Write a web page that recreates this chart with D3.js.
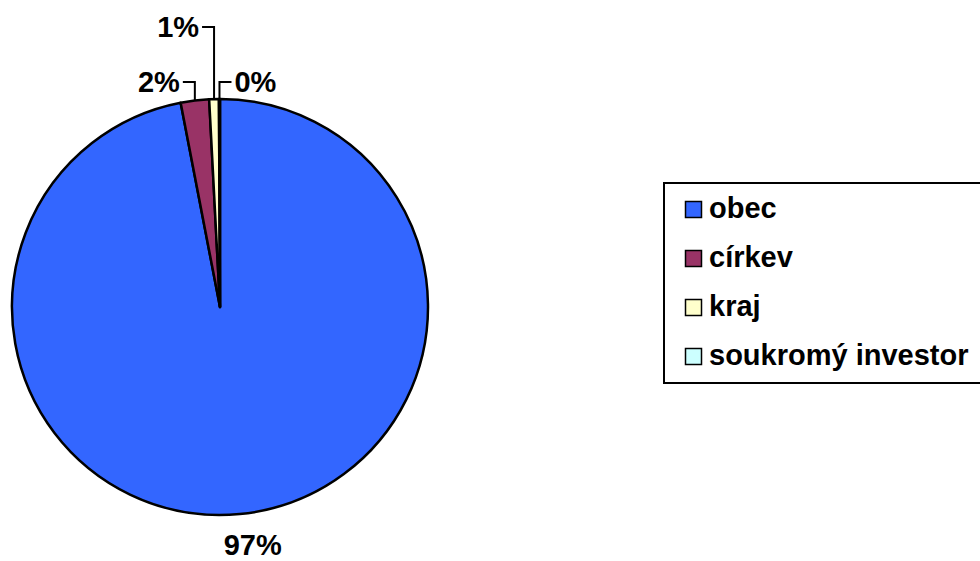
<!DOCTYPE html>
<html>
<head>
<meta charset="utf-8">
<script src="https://cdn.jsdelivr.net/npm/d3@7"></script>
<style>
  body { margin: 0; background: #fff; }
  svg { display: block; font-family: "Liberation Sans", Arial, sans-serif; font-weight: bold; }
</style>
</head>
<body>
<div id="chart"></div>
<script>
// podíl investorů
const categories = ["obec", "církev", "kraj", "soukromý investor"];
const values = [97.0, 2.2, 0.75, 0.08];
const colors = ["#3366FF", "#993366", "#FFFFCC", "#CCFFFF"];

const width = 980, height = 561;
const cx = 220, cy = 307, radius = 208;
const fontSize = 29;

// kam dát popisky malých výsečí (nad koláčem)
const labelRise = [null, 17, 72, 17];   // o kolik nad okraj
const labelSide = [0, -1, -1, 1];       // vlevo / vpravo

const svg = d3.select("#chart").append("svg")
  .attr("width", width)
  .attr("height", height);

const total = d3.sum(values);
const pie = d3.pie().sort(null).value(d => d)(values);
const arc = d3.arc().innerRadius(0).outerRadius(radius);

const g = svg.append("g").attr("transform", `translate(${cx},${cy})`);

g.selectAll("path.slice")
  .data(pie)
  .enter()
  .append("path")
    .attr("class", "slice")
    .attr("d", arc)
    .attr("fill", (d, i) => colors[i])
    .attr("stroke", "#000")
    .attr("stroke-width", 2.5)
    .attr("stroke-linejoin", "round");

const pct = v => Math.round(v / total * 100) + "%";

pie.forEach((d, i) => {
  const mid = (d.startAngle + d.endAngle) / 2;
  const ex = radius * Math.sin(mid);
  const ey = -radius * Math.cos(mid);
  if (labelRise[i] == null) {
    // velká výseč - popisek pod okrajem
    const r2 = radius + 31;
    g.append("text")
      .attr("x", r2 * Math.sin(mid) + 10)
      .attr("y", -r2 * Math.cos(mid) + 10)
      .attr("text-anchor", "middle")
      .attr("font-size", fontSize)
      .text(pct(d.value));
    return;
  }
  const ly = -radius - labelRise[i];
  const hx = ex + labelSide[i] * 12;
  g.append("path")
    .attr("d", `M${ex},${ey}V${ly}H${hx}`)
    .attr("fill", "none")
    .attr("stroke", "#000")
    .attr("stroke-width", 2);
  g.append("text")
    .attr("x", hx + labelSide[i] * 3)
    .attr("y", ly + 10)
    .attr("text-anchor", labelSide[i] < 0 ? "end" : "start")
    .attr("font-size", fontSize)
    .text(pct(d.value));
});

// legenda
const legend = svg.append("g").attr("transform", "translate(664,183)");
legend.append("rect")
  .attr("width", 340)
  .attr("height", 200)
  .attr("fill", "#fff")
  .attr("stroke", "#000")
  .attr("stroke-width", 2);

const ly = d3.scalePoint().domain(categories).range([35, 182]);

const item = legend.selectAll("g.item")
  .data(categories)
  .enter()
  .append("g")
    .attr("class", "item")
    .attr("transform", d => `translate(0,${ly(d)})`);

item.append("rect")
  .attr("x", 21.5)
  .attr("y", -16.5)
  .attr("width", 16)
  .attr("height", 16)
  .attr("fill", (d, i) => colors[i])
  .attr("stroke", "#000")
  .attr("stroke-width", 1.5);

item.append("text")
  .attr("x", 45)
  .attr("y", 0)
  .attr("font-size", fontSize)
  .text(d => d);
</script>
</body>
</html>
